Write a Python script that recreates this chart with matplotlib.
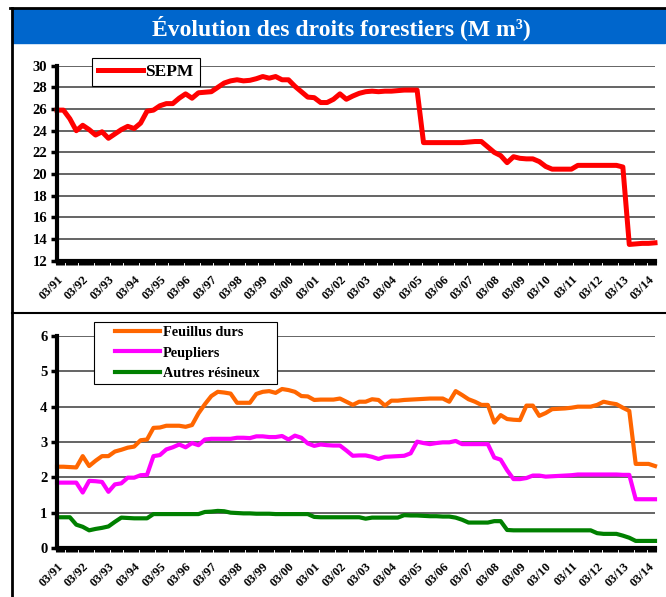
import numpy as np
import matplotlib
matplotlib.use("Agg")
import matplotlib.pyplot as plt
from matplotlib.patches import Rectangle
from matplotlib.lines import Line2D

plt.rcParams['font.family'] = ['Liberation Serif', 'DejaVu Serif']
plt.rcParams['font.weight'] = 'bold'

# quarterly series, 03/91 -> 06/14 (M m3)
sepm = [25.9, 25.9, 25.1, 24.0,
        24.5, 24.1, 23.6, 23.9,
        23.3, 23.7, 24.1, 24.4,
        24.2, 24.7, 25.8, 25.9,
        26.3, 26.5, 26.5, 27.0,
        27.4, 27.0, 27.5, 27.55,
        27.6, 28.0, 28.4, 28.6,
        28.7, 28.6, 28.65, 28.8,
        29.0, 28.85, 29.0, 28.7,
        28.7, 28.1, 27.6, 27.1,
        27.05, 26.6, 26.6, 26.9,
        27.4, 26.9, 27.2, 27.45,
        27.6, 27.65, 27.6, 27.65,
        27.65, 27.7, 27.75, 27.75,
        27.75, 22.9, 22.9, 22.9,
        22.9, 22.9, 22.9, 22.9,
        22.95, 23.0, 23.0, 22.5,
        22.0, 21.7, 21.05, 21.6,
        21.45, 21.4, 21.4, 21.15,
        20.7, 20.45, 20.45, 20.45,
        20.45, 20.8, 20.8, 20.8,
        20.8, 20.8, 20.8, 20.8,
        20.65, 13.5, 13.55, 13.6,
        13.6, 13.65]

feuillus = [2.30, 2.30, 2.29, 2.28,
            2.60, 2.32, 2.47, 2.60,
            2.60, 2.73, 2.78, 2.84,
            2.87, 3.05, 3.07, 3.40,
            3.41, 3.46, 3.46, 3.46,
            3.43, 3.48, 3.81, 4.07,
            4.30, 4.42, 4.40, 4.37,
            4.11, 4.11, 4.11, 4.36,
            4.42, 4.44, 4.39, 4.50,
            4.47, 4.42, 4.30, 4.29,
            4.19, 4.20, 4.20, 4.20,
            4.23, 4.14, 4.05, 4.14,
            4.14, 4.21, 4.19, 4.03,
            4.17, 4.17, 4.19, 4.20,
            4.21, 4.22, 4.23, 4.23,
            4.23, 4.14, 4.44, 4.33,
            4.21, 4.14, 4.05, 4.05,
            3.55, 3.76, 3.65, 3.63,
            3.62, 4.03, 4.03, 3.74,
            3.82, 3.93, 3.94, 3.95,
            3.97, 4.00, 4.00, 4.00,
            4.05, 4.14, 4.10, 4.07,
            3.97, 3.88, 2.38, 2.38,
            2.38, 2.32]

peupliers = [1.85, 1.85, 1.85, 1.85,
             1.57, 1.90, 1.89, 1.87,
             1.59, 1.80, 1.83, 1.99,
             1.99, 2.06, 2.07, 2.60,
             2.63, 2.79, 2.85, 2.93,
             2.85, 2.97, 2.91, 3.07,
             3.09, 3.09, 3.09, 3.09,
             3.12, 3.12, 3.11, 3.16,
             3.16, 3.14, 3.14, 3.17,
             3.07, 3.18, 3.12, 2.96,
             2.89, 2.93, 2.91, 2.90,
             2.90, 2.76, 2.61, 2.62,
             2.62, 2.58, 2.52, 2.58,
             2.59, 2.60, 2.61, 2.68,
             3.01, 2.97, 2.94, 2.97,
             2.99, 2.99, 3.03, 2.94,
             2.94, 2.94, 2.94, 2.94,
             2.56, 2.50, 2.20, 1.95,
             1.95, 1.98, 2.05, 2.05,
             2.02, 2.03, 2.04, 2.05,
             2.06, 2.08, 2.08, 2.08,
             2.08, 2.08, 2.08, 2.08,
             2.07, 2.07, 1.38, 1.38,
             1.38, 1.38]

resineux = [0.87, 0.87, 0.87, 0.66,
            0.60, 0.50, 0.54, 0.57,
            0.61, 0.74, 0.86, 0.85,
            0.84, 0.84, 0.84, 0.96,
            0.96, 0.96, 0.96, 0.96,
            0.96, 0.96, 0.96, 1.02,
            1.03, 1.05, 1.04, 1.00,
            0.99, 0.98, 0.98, 0.97,
            0.97, 0.97, 0.96, 0.96,
            0.96, 0.96, 0.96, 0.96,
            0.88, 0.87, 0.87, 0.87,
            0.87, 0.87, 0.87, 0.87,
            0.83, 0.86, 0.86, 0.86,
            0.86, 0.86, 0.93, 0.92,
            0.92, 0.91, 0.90, 0.90,
            0.89, 0.89, 0.86, 0.80,
            0.72, 0.72, 0.72, 0.72,
            0.76, 0.76, 0.51, 0.50,
            0.50, 0.50, 0.50, 0.50,
            0.50, 0.50, 0.50, 0.50,
            0.50, 0.50, 0.50, 0.50,
            0.42, 0.40, 0.40, 0.40,
            0.35, 0.29, 0.20, 0.20,
            0.20, 0.20]

year_labels = ['03/91', '03/92', '03/93', '03/94', '03/95', '03/96', '03/97', '03/98',
               '03/99', '03/00', '03/01', '03/02', '03/03', '03/04', '03/05', '03/06',
               '03/07', '03/08', '03/09', '03/10', '03/11', '03/12', '03/13', '03/14']

t = 1991 + np.arange(len(sepm)) / 4.0
W, H = 666, 597

fig = plt.figure(figsize=(W / 100, H / 100), dpi=100)

def fx(px):
    return px / W

def fy(py):
    return 1 - py / H

def rect(x0, y0, x1, y1, **kw):
    return Rectangle((fx(x0), fy(y1)), fx(x1) - fx(x0), fy(y0) - fy(y1),
                     transform=fig.transFigure, **kw)

def fline(x0, y0, x1, y1, lw):
    fig.add_artist(Line2D([fx(x0), fx(x1)], [fy(y0), fy(y1)], transform=fig.transFigure,
                          color='black', lw=lw))

# frame + title banner
fig.add_artist(rect(12, 9, 665, 43, color='#0066CC', zorder=0))
fline(10, 8, 665, 8, 2)
fline(12, 8, 12, 597, 2)
fline(12, 312.7, 665, 312.7, 1.5)
fig.text(fx(341), fy(28), 'Évolution des droits forestiers (M m³)', color='white',
         fontsize=17, fontweight='bold', ha='center', va='center')


def style_axes(ax, ylim, yticks):
    ax.set_xlim(1991, 2014.25)
    ax.set_ylim(*ylim)
    ax.set_yticks(yticks)
    ax.set_yticklabels([str(v) for v in yticks], fontsize=10.5, fontweight='bold')
    ax.set_xticks(np.arange(len(year_labels)) + 1991)
    ax.set_xticklabels(year_labels, rotation=45, ha='right', va='top',
                       rotation_mode='anchor', fontsize=9, fontweight='bold')
    ax.set_xticks(np.arange(1991, 2014.3, 0.125), minor=True)
    ax.tick_params(axis='x', which='both', length=3, width=2.2, direction='out', pad=6)
    ax.tick_params(axis='y', length=4, width=2.5, direction='out', pad=3)
    for s in ['top', 'right']:
        ax.spines[s].set_visible(False)
    ax.spines['left'].set_linewidth(3)
    ax.spines['bottom'].set_linewidth(3)
    ax.grid(axis='y', color='#3a3a3a', lw=1.1)
    ax.set_axisbelow(True)


# top panel
ax1 = fig.add_axes([fx(57), fy(260.7), fx(655) - fx(57), fy(65.7) - fy(260.7)])
ax1.plot(t, sepm, color='#FF0000', lw=3.6, label='SEPM', clip_on=False)
style_axes(ax1, (12, 30), list(range(12, 31, 2)))
ax1.add_patch(rect(92, 58, 200, 86, facecolor='white', edgecolor='black', lw=0.8,
                   zorder=4, clip_on=False))
leg1 = ax1.legend(loc='center left', bbox_to_anchor=(fx(98), fy(72)), bbox_transform=fig.transFigure,
                  frameon=False, borderaxespad=0, borderpad=0,
                  prop={'size': 12.5, 'weight': 'bold'}, handlelength=2.6, handletextpad=0.1)
leg1.set_zorder(5)

# bottom panel
ax2 = fig.add_axes([fx(57), fy(548), fx(655) - fx(57), fy(336) - fy(548)])
ax2.plot(t, feuillus, color='#FF6600', lw=3, label='Feuillus durs', clip_on=False)
ax2.plot(t, peupliers, color='#FF00FF', lw=3, label='Peupliers', clip_on=False)
ax2.plot(t, resineux, color='#008000', lw=3, label='Autres résineux', clip_on=False)
style_axes(ax2, (0, 6), list(range(0, 7)))
ax2.add_patch(rect(94, 322, 277, 384, facecolor='white', edgecolor='black', lw=0.8,
                   zorder=4, clip_on=False))
leg2 = ax2.legend(loc='center left', bbox_to_anchor=(fx(115), fy(353)), bbox_transform=fig.transFigure,
                  frameon=False, borderaxespad=0, borderpad=0,
                  prop={'size': 10.3, 'weight': 'bold'}, handlelength=3.15, handletextpad=0.2,
                  labelspacing=0.55)
leg2.set_zorder(5)

fig.savefig('out.png', dpi=100)
